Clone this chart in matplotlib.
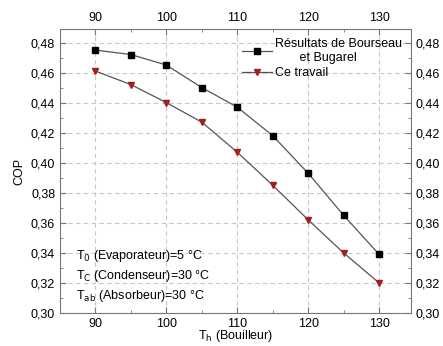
import numpy as np
import matplotlib.pyplot as plt
from matplotlib.ticker import MultipleLocator, FormatStrFormatter

plt.rcParams['font.family'] = ['Liberation Sans', 'DejaVu Sans']

# données
t_bouilleur = [90, 95, 100, 105, 110, 115, 120, 125, 130]
cop_bourseau = [0.475, 0.472, 0.465, 0.450, 0.437, 0.418, 0.393, 0.365, 0.339]
cop_travail = [0.461, 0.452, 0.440, 0.427, 0.407, 0.385, 0.362, 0.340, 0.320]

fig = plt.figure(figsize=(4.43, 3.46), dpi=100)
ax = fig.add_axes([60/443, 33/346, 351/443, 284/346])

ax.plot(t_bouilleur, cop_bourseau, '-', color='#555555', lw=0.9,
        marker='s', ms=4.5, mfc='black', mec='black', label='Résultats de Bourseau\n       et Bugarel')
ax.plot(t_bouilleur, cop_travail, '-', color='#555555', lw=0.9,
        marker='v', ms=5, mfc='#a0201a', mec='#a0201a', label='Ce travail')

ax.set_xlim(85, 134.5)
ax.set_ylim(0.30, 0.489)
ax.xaxis.set_major_locator(MultipleLocator(10))
ax.xaxis.set_minor_locator(MultipleLocator(5))
ax.yaxis.set_major_locator(MultipleLocator(0.02))
ax.yaxis.set_minor_locator(MultipleLocator(0.01))
ax.yaxis.set_major_formatter(FormatStrFormatter('%.2f'))
ax.set_yticklabels([f'{v:.2f}'.replace('.', ',') for v in ax.get_yticks()])

ax.tick_params(which='both', direction='in', top=True, right=True,
               labeltop=True, labelright=True, labelsize=9, color='#777777')
ax.tick_params(which='major', length=4)
ax.tick_params(which='minor', length=2)
ax.grid(True, which='major', ls=(0, (4, 3)), color='#c8c8c8', lw=0.8)
for s in ax.spines.values():
    s.set_color('#777777')

ax.set_xlabel(r'T$_\mathrm{h}$ (Bouilleur)', fontsize=9, labelpad=-1)
ax.set_ylabel('COP', fontsize=9)

ax.legend(loc='upper right', frameon=False, fontsize=9, handlelength=2.4,
          borderaxespad=0.3, labelspacing=0.3, handletextpad=0.3)

ax.text(87.3, 0.343, r'T$_\mathrm{0}$ (Evaporateur)=5 °C' + '\n' +
        r'T$_\mathrm{C}$ (Condenseur)=30 °C' + '\n' +
        r'T$_\mathrm{ab}$ (Absorbeur)=30 °C',
        fontsize=9, va='top', linespacing=1.35)

fig.savefig('out.png', dpi=100)
